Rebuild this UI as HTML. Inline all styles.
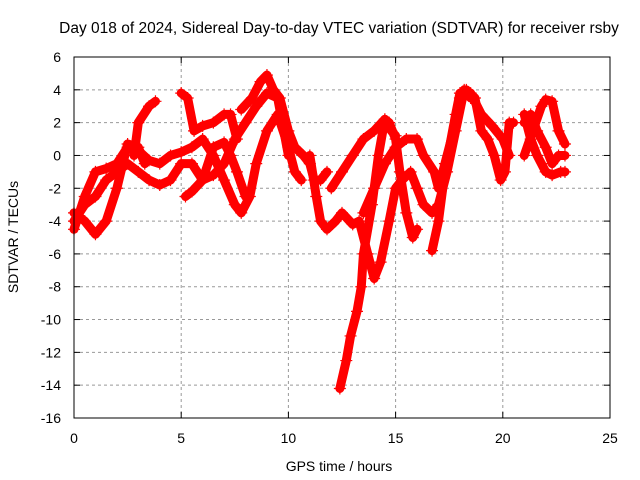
<!DOCTYPE html>
<html><head><meta charset="utf-8"><style>
body{margin:0;background:#fff}
svg{display:block;font-family:"Liberation Sans",Arial,sans-serif}
</style></head><body>
<svg id="c" width="640" height="480" viewBox="0 0 640 480">
<text x="339" y="33" font-size="15.5" text-anchor="middle">Day 018 of 2024, Sidereal Day-to-day VTEC variation (SDTVAR) for receiver rsby</text>
<text x="339" y="471" font-size="14" text-anchor="middle">GPS time / hours</text>
<text transform="translate(18,237) rotate(-90)" font-size="14" text-anchor="middle">SDTVAR / TECUs</text>
<g id="grid"></g><g id="marks"></g>
<rect x="74" y="57" width="536" height="361" fill="none" stroke="#000" stroke-width="1"/>
</svg>
<script>
const xTicks=[0,5,10,15,20,25];
const yTicks=[6,4,2,0,-2,-4,-6,-8,-10,-12,-14,-16];
const track1=[[0,-4.5],[0.5,-2.5],[1,-1],[1.5,-0.8],[2,-0.5],[2.5,0.5],[3,0.3],[3.5,-0.3],[4,-0.5],[4.5,0],[5,0.2],[5.5,0.5],[6,1],[6.5,0],[7,-1.5],[7.5,-3],[7.8,-3.5],[8.2,-2.5],[8.5,-0.5],[9,1.5],[9.5,2.5],[10,0.5],[10.3,-1],[10.6,-1.5]];
const track2=[[0,-4],[0.5,-3],[1,-2.5],[1.5,-1.5],[2,-1],[2.5,-0.5],[3,-1],[3.5,-1.5],[4,-1.8],[4.5,-1.5],[5,-0.5],[5.5,-0.5],[6,-1.5],[6.5,-1.2],[7,-0.5],[7.5,1],[8,2],[8.5,3],[9,3.8],[9.5,3.5],[10,0]];
const track3=[[0,-3.5],[0.5,-4],[1,-4.8],[1.5,-4],[2,-2],[2.5,0.7],[3,0.5],[3.3,-0.5]];
const track4=[[2.8,0],[3,2],[3.5,3],[3.8,3.3]];
const track5=[[5,3.8],[5.3,3.5],[5.6,1.5],[6,1.8],[6.5,2],[7,2.5],[7.3,2.5],[7.6,1]];
const track6=[[5.2,-2.5],[5.5,-2.2],[6,-1.5],[6.5,0.5],[7,0.8],[7.3,0],[7.6,-1],[8,-2.5]];
const track7=[[7.8,2.8],[8.3,3.5],[8.7,4.5],[9,4.9],[9.3,4],[9.6,3.5],[10,1.5],[10.3,0.5],[10.7,0],[11,-0.5],[11.2,-1.5],[11.5,-1.5],[11.8,-1]];
const track8=[[11,0],[11.3,-2.5],[11.5,-4],[11.8,-4.5],[12.2,-4],[12.5,-3.5],[13,-4.2],[13.3,-4],[13.7,-6],[14,-7.5],[14.3,-6.5],[14.7,-4],[15,-2],[15.3,-1.5],[15.7,-1],[16,-2],[16.3,-3],[16.7,-3.5],[17,-3],[17.4,-1],[17.8,1.5],[18.2,4],[18.5,3.5]];
const track9=[[12.4,-14.2],[12.7,-12.5],[12.9,-11],[13.2,-9.5],[13.4,-8],[13.5,-6],[13.9,-3],[14.2,0],[14.5,2.2],[14.8,1.5],[15,1.2]];
const track10=[[12,-2],[12.5,-1],[13,0],[13.5,1],[14,1.5],[14.5,2.2],[14.7,2],[15,1],[15.2,-1],[15.5,-3.5],[15.8,-5],[16,-4.5]];
const track11=[[13.5,-3.5],[14,-2],[14.5,-0.5],[15,0.5],[15.5,1],[16,1],[16.3,0],[16.8,-1],[17,-2],[17.3,-0.5],[17.8,2],[18,3.5],[18.3,4],[18.7,3.5],[19,1.5],[19.3,1],[19.6,0],[19.9,-1.5],[20.1,-1],[20.3,2],[20.5,2]];
const track12=[[16.7,-5.8],[17,-4],[17.3,-1],[17.8,2.5],[18,3.8],[18.5,3.8],[19,2.5],[19.5,1.8],[20,1],[20.3,0]];
const track13=[[21,2.5],[21.3,1],[21.6,0],[22,-1],[22.3,-1.2],[22.7,-1],[22.9,-1]];
const track14=[[21,2],[21.3,2.5],[21.6,1.5],[22,0.5],[22.3,-0.5],[22.6,0],[22.9,0]];
const track15=[[21,0],[21.4,1.5],[21.8,3],[22,3.4],[22.3,3.3],[22.6,1.5],[22.9,0.7]];
const tracks=[track1,track2,track3,track4,track5,track6,track7,track8,track9,track10,track11,track12,track13,track14,track15];
const NS="http://www.w3.org/2000/svg";
const X=t=>74+t*536/25, Y=v=>57+(6-v)*361/22;
const grid=document.getElementById('grid'), marks=document.getElementById('marks');
function mk(tag,a,p){const e=document.createElementNS(NS,tag);for(const k in a)e.setAttribute(k,a[k]);p.appendChild(e);return e;}
xTicks.forEach(t=>{
  if(t>0&&t<25){const g=mk('line',{x1:X(t),x2:X(t),y1:57,y2:418,stroke:'#999','stroke-dasharray':'3,3'},grid);
  
  }
  mk('line',{x1:X(t),x2:X(t),y1:418,y2:412,stroke:'#000'},grid);
  mk('line',{x1:X(t),x2:X(t),y1:57,y2:63,stroke:'#000'},grid);
  const l=mk('text',{x:X(t),y:443,'font-size':14,'text-anchor':'middle'},grid);l.textContent=t;
  
  
});
yTicks.forEach(v=>{
  if(v<6&&v>-16){const g=mk('line',{x1:74,x2:610,y1:Y(v),y2:Y(v),stroke:'#999','stroke-dasharray':'3,3'},grid);
  
  }
  mk('line',{x1:74,x2:80,y1:Y(v),y2:Y(v),stroke:'#000'},grid);
  mk('line',{x1:604,x2:610,y1:Y(v),y2:Y(v),stroke:'#000'},grid);
  const l=mk('text',{x:61,y:Y(v)+5,'font-size':14,'text-anchor':'end'},grid);l.textContent=v;
  
  
});
tracks.forEach((tr,i)=>{
  const p=mk('polyline',{points:tr.map(d=>X(d[0])+','+Y(d[1])).join(' '),fill:'none',stroke:'#f00','stroke-width':9,'stroke-linejoin':'round','stroke-linecap':'round'},marks);
  
  
  tr.forEach(d=>{
    const x=X(d[0]),y=Y(d[1]);
    const m=mk('path',{d:`M${x-6},${y}h12M${x},${y-6}v12`,stroke:'#f00','stroke-width':1.2},marks);
    
    
  });
});
</script>
</body></html>
